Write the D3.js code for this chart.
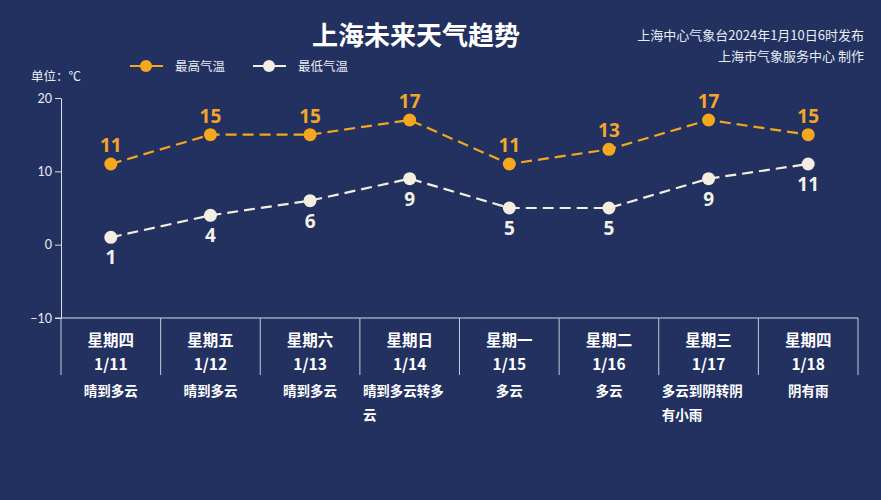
<!DOCTYPE html>
<html>
<head>
<meta charset="utf-8">
<script src="https://cdn.jsdelivr.net/npm/d3@7"></script>
<style>
  html, body { margin: 0; padding: 0; background: #22315f; }
  svg { display: block; font-family: "Noto Sans CJK SC", "Noto Sans", sans-serif; }
</style>
</head>
<body>
<svg id="chart"></svg>
<script>
const weekdays = ['星期四', '星期五', '星期六', '星期日', '星期一', '星期二', '星期三', '星期四'];
const dates = ['1/11', '1/12', '1/13', '1/14', '1/15', '1/16', '1/17', '1/18'];
const weather = [['晴到多云'], ['晴到多云'], ['晴到多云'], ['晴到多云转多', '云'], ['多云'], ['多云'], ['多云到阴转阴', '有小雨'], ['阴有雨']];
const highTemps = [11, 15, 15, 17, 11, 13, 17, 15];
const lowTemps = [1, 4, 6, 9, 5, 5, 9, 11];
const yTicks = [-10, 0, 10, 20];

const W = 881, H = 500;
const plotLeft = 61, plotRight = 858, plotTop = 98, plotBottom = 318;
const orange = '#f5a71d', cream = '#f4eee2';

const svg = d3.select('#chart').attr('width', W).attr('height', H);
svg.append('rect').attr('width', W).attr('height', H).attr('fill', '#22315f');

const xScale = d3.scaleBand().domain(dates).range([plotLeft, plotRight]);
const yScale = d3.scaleLinear().domain([-10, 20]).range([plotBottom, plotTop]);
const cx = d => xScale(d) + xScale.bandwidth() / 2;

// title and credits
svg.append('text').attr('x', 416).attr('y', 45).attr('text-anchor', 'middle')
  .attr('fill', '#fff').attr('font-size', 26).attr('font-weight', 'bold').text('上海未来天气趋势');
svg.append('text').attr('x', 864).attr('y', 40).attr('text-anchor', 'end')
  .attr('fill', '#e8ecf5').attr('font-size', 13).text('上海中心气象台2024年1月10日6时发布');
svg.append('text').attr('x', 864).attr('y', 61).attr('text-anchor', 'end')
  .attr('fill', '#e8ecf5').attr('font-size', 13).text('上海市气象服务中心 制作');

// legend
const legend = [{ name: '最高气温', color: orange, x: 130 }, { name: '最低气温', color: cream, x: 253 }];
legend.forEach(l => {
  const g = svg.append('g');
  g.append('line').attr('x1', l.x).attr('x2', l.x + 33).attr('y1', 66).attr('y2', 66)
    .attr('stroke', l.color).attr('stroke-width', 2);
  g.append('circle').attr('cx', l.x + 16).attr('cy', 66).attr('r', 6).attr('fill', l.color);
  g.append('text').attr('x', l.x + 45).attr('y', 71).attr('fill', '#e8ecf5').attr('font-size', 12.5).text(l.name);
});
svg.append('text').attr('x', 31).attr('y', 81).attr('fill', '#e8ecf5').attr('font-size', 12.5).text('单位：℃');

// y axis
const yAxis = svg.append('g').attr('transform', `translate(${plotLeft},0)`)
  .call(d3.axisLeft(yScale).tickValues(yTicks).tickSize(6).tickSizeOuter(0));
yAxis.select('.domain').attr('stroke', '#d8deea');
yAxis.selectAll('.tick line').attr('stroke', '#d8deea');
yAxis.selectAll('.tick text').attr('fill', '#e8ecf5').attr('font-size', 12.5)
  .attr('font-family', 'Lato, "Noto Sans", sans-serif').attr('x', -9);

// x axis line and dividers
svg.append('line').attr('x1', plotLeft - 6).attr('x2', plotRight).attr('y1', plotBottom).attr('y2', plotBottom)
  .attr('stroke', '#d8deea');
svg.selectAll('.divider').data(dates.concat(['end']))
  .enter().append('line')
  .attr('x1', (d, i) => i < dates.length ? xScale(d) : plotRight)
  .attr('x2', (d, i) => i < dates.length ? xScale(d) : plotRight)
  .attr('y1', plotBottom).attr('y2', 375)
  .attr('stroke', '#c4cbdb');

// category labels
dates.forEach((d, i) => {
  svg.append('text').attr('x', cx(d)).attr('y', 346).attr('text-anchor', 'middle')
    .attr('fill', '#fff').attr('font-size', 15.5).attr('font-weight', 'bold').text(weekdays[i]);
  svg.append('text').attr('x', cx(d)).attr('y', 370).attr('text-anchor', 'middle')
    .attr('fill', '#fff').attr('font-size', 15.5).attr('font-weight', 'bold').text(d);
  const lines = weather[i];
  const multi = lines.length > 1;
  lines.forEach((t, j) => {
    svg.append('text')
      .attr('x', multi ? xScale(d) + 3 : cx(d))
      .attr('y', 396 + j * 24)
      .attr('text-anchor', multi ? 'start' : 'middle')
      .attr('fill', '#fff').attr('font-size', 13.5).attr('font-weight', 'bold').text(t);
  });
});

// series
const series = [
  { values: highTemps, color: orange, labelDy: -12, labelColor: '#f2a62a' },
  { values: lowTemps, color: cream, labelDy: 27, labelColor: '#f4f1ea' }
];
const line = d3.line().x((v, i) => cx(dates[i])).y(v => yScale(v));
series.forEach(s => {
  svg.append('path').datum(s.values).attr('d', line).attr('fill', 'none')
    .attr('stroke', s.color).attr('stroke-width', 2.2).attr('stroke-dasharray', '11,6');
  svg.selectAll(null).data(s.values).enter().append('circle')
    .attr('cx', (v, i) => cx(dates[i])).attr('cy', v => yScale(v)).attr('r', 6.5)
    .attr('fill', s.color);
  svg.selectAll(null).data(s.values).enter().append('text')
    .attr('x', (v, i) => cx(dates[i])).attr('y', v => yScale(v) + s.labelDy)
    .attr('text-anchor', 'middle').attr('fill', s.labelColor)
    .attr('font-size', 19).attr('font-weight', 'bold')
    .attr('font-family', '"Open Sans", "Noto Sans", sans-serif')
    .text(v => v);
});
</script>
</body>
</html>
